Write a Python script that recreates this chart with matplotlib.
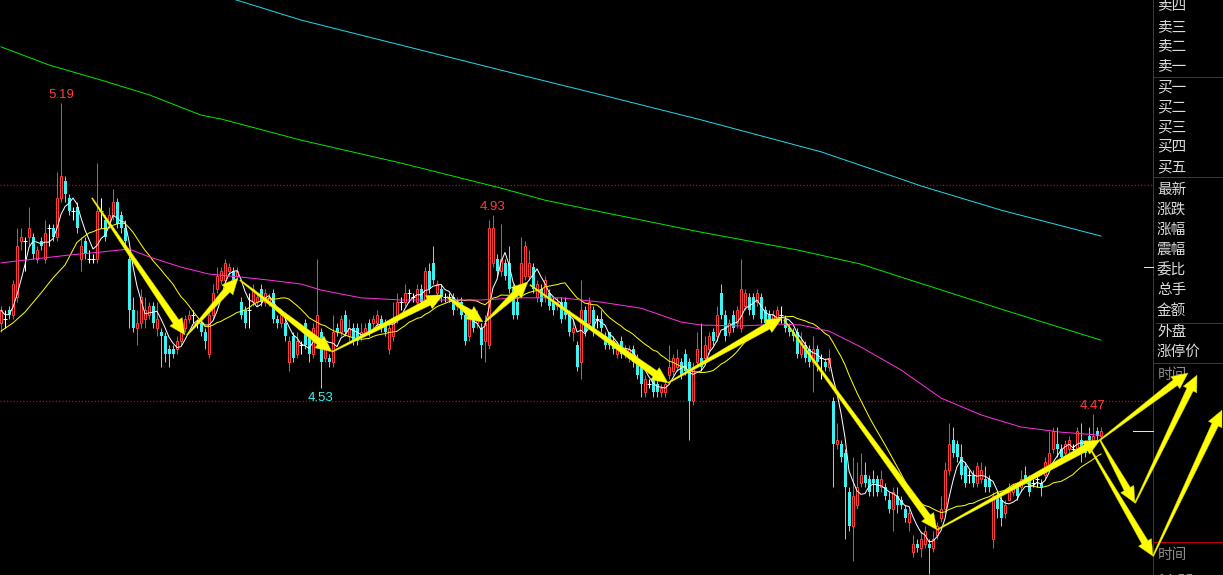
import numpy as np
import pandas as pd
import matplotlib
matplotlib.use('Agg')
import matplotlib.pyplot as plt
from matplotlib.patches import Polygon
from matplotlib.transforms import IdentityTransform

plt.rcParams['font.family'] = ['Noto Sans CJK SC', 'DejaVu Sans']

# 1. K线数据 (开 / 高 / 低 / 收)
opens = [4.68, 4.69, 4.71, 4.70, 4.74, 4.87, 4.87, 4.88, 4.88, 4.83,
         4.87, 4.83, 4.90, 4.90, 4.88, 4.97, 5.01, 4.97, 4.94, 4.95,
         4.83, 4.87, 4.83, 4.83, 4.83, 4.94, 4.92, 4.91, 4.93, 4.96,
         4.93, 4.90, 4.83, 4.71, 4.67, 4.68, 4.69, 4.70, 4.72, 4.67,
         4.66, 4.65, 4.62, 4.62, 4.62, 4.64, 4.67, 4.69, 4.70, 4.68,
         4.68, 4.66, 4.61, 4.70, 4.76, 4.78, 4.78, 4.80, 4.80, 4.79,
         4.73, 4.71, 4.71, 4.73, 4.73, 4.76, 4.73, 4.73, 4.75, 4.69,
         4.68, 4.68, 4.59, 4.65, 4.61, 4.63, 4.68, 4.65, 4.61, 4.65,
         4.66, 4.60, 4.60, 4.59, 4.67, 4.66, 4.70, 4.65, 4.67, 4.67,
         4.65, 4.66, 4.68, 4.68, 4.68, 4.69, 4.68, 4.62, 4.65, 4.69,
         4.73, 4.73, 4.75, 4.74, 4.73, 4.76, 4.73, 4.80, 4.82, 4.75,
         4.76, 4.74, 4.74, 4.74, 4.72, 4.73, 4.70, 4.65, 4.71, 4.68,
         4.67, 4.64, 4.63, 4.82, 4.83, 4.80, 4.82, 4.82, 4.76, 4.73,
         4.76, 4.79, 4.79, 4.81, 4.74, 4.76, 4.74, 4.75, 4.73, 4.72,
         4.73, 4.73, 4.70, 4.66, 4.63, 4.59, 4.71, 4.68, 4.71, 4.69,
         4.69, 4.65, 4.66, 4.64, 4.61, 4.64, 4.61, 4.60, 4.62, 4.60,
         4.58, 4.52, 4.54, 4.55, 4.54, 4.52, 4.52, 4.56, 4.57, 4.58,
         4.59, 4.61, 4.59, 4.50, 4.59, 4.60, 4.60, 4.62, 4.66, 4.65,
         4.75, 4.70, 4.66, 4.70, 4.68, 4.67, 4.72, 4.74, 4.74, 4.73,
         4.74, 4.71, 4.70, 4.69, 4.69, 4.70, 4.69, 4.67, 4.66, 4.66,
         4.61, 4.63, 4.62, 4.59, 4.62, 4.60, 4.59, 4.58, 4.50, 4.40,
         4.40, 4.38, 4.29, 4.21, 4.26, 4.31, 4.33, 4.32, 4.32, 4.32,
         4.30, 4.30, 4.27, 4.25, 4.28, 4.27, 4.25, 4.22, 4.15, 4.17,
         4.16, 4.17, 4.17, 4.16, 4.19, 4.23, 4.25, 4.34, 4.41, 4.40,
         4.37, 4.35, 4.33, 4.33, 4.31, 4.32, 4.32, 4.32, 4.18, 4.28,
         4.27, 4.24, 4.27, 4.29, 4.30, 4.30, 4.33, 4.32, 4.31, 4.32,
         4.31, 4.33, 4.35, 4.39, 4.40, 4.39, 4.38, 4.39, 4.39, 4.39,
         4.41, 4.40, 4.42, 4.41, 4.43, 4.42]

highs = [4.72, 4.71, 4.72, 4.78, 4.90, 4.90, 4.88, 4.95, 4.89, 4.86,
         4.88, 4.92, 4.91, 4.91, 5.03, 5.19, 5.02, 4.98, 4.95, 4.96,
         4.88, 4.88, 4.85, 4.84, 5.05, 4.97, 4.93, 4.95, 4.99, 4.97,
         4.94, 4.92, 4.84, 4.74, 4.71, 4.76, 4.74, 4.73, 4.73, 4.73,
         4.67, 4.66, 4.63, 4.63, 4.65, 4.68, 4.70, 4.71, 4.71, 4.69,
         4.69, 4.67, 4.71, 4.77, 4.81, 4.81, 4.83, 4.82, 4.81, 4.81,
         4.74, 4.72, 4.75, 4.77, 4.75, 4.77, 4.76, 4.75, 4.76, 4.70,
         4.71, 4.69, 4.65, 4.66, 4.66, 4.64, 4.69, 4.66, 4.68, 4.83,
         4.67, 4.64, 4.61, 4.70, 4.68, 4.70, 4.71, 4.69, 4.68, 4.68,
         4.68, 4.68, 4.69, 4.70, 4.71, 4.70, 4.69, 4.68, 4.73, 4.75,
         4.74, 4.77, 4.76, 4.75, 4.77, 4.77, 4.81, 4.82, 4.86, 4.78,
         4.77, 4.75, 4.75, 4.75, 4.74, 4.74, 4.71, 4.70, 4.72, 4.71,
         4.68, 4.70, 4.92, 4.93, 4.84, 4.91, 4.83, 4.86, 4.77, 4.75,
         4.88, 4.87, 4.85, 4.82, 4.78, 4.77, 4.79, 4.76, 4.74, 4.74,
         4.74, 4.74, 4.71, 4.69, 4.64, 4.78, 4.72, 4.74, 4.72, 4.70,
         4.71, 4.66, 4.66, 4.65, 4.64, 4.65, 4.63, 4.63, 4.63, 4.61,
         4.59, 4.56, 4.55, 4.56, 4.55, 4.54, 4.55, 4.63, 4.61, 4.62,
         4.60, 4.62, 4.60, 4.59, 4.66, 4.68, 4.65, 4.66, 4.67, 4.72,
         4.77, 4.71, 4.69, 4.71, 4.72, 4.83, 4.76, 4.75, 4.75, 4.76,
         4.75, 4.72, 4.71, 4.71, 4.72, 4.72, 4.70, 4.68, 4.67, 4.67,
         4.66, 4.64, 4.63, 4.65, 4.63, 4.61, 4.60, 4.62, 4.51, 4.45,
         4.41, 4.39, 4.30, 4.37, 4.36, 4.38, 4.36, 4.33, 4.34, 4.33,
         4.34, 4.31, 4.29, 4.30, 4.30, 4.28, 4.26, 4.25, 4.19, 4.18,
         4.20, 4.21, 4.18, 4.20, 4.22, 4.28, 4.36, 4.45, 4.44, 4.41,
         4.40, 4.36, 4.34, 4.34, 4.36, 4.36, 4.35, 4.33, 4.29, 4.29,
         4.28, 4.27, 4.31, 4.31, 4.31, 4.34, 4.35, 4.33, 4.32, 4.33,
         4.32, 4.37, 4.43, 4.44, 4.44, 4.40, 4.41, 4.42, 4.40, 4.44,
         4.45, 4.41, 4.44, 4.47, 4.44, 4.44]

lows = [4.66, 4.67, 4.69, 4.69, 4.73, 4.85, 4.80, 4.86, 4.83, 4.82,
        4.85, 4.82, 4.86, 4.87, 4.87, 4.96, 4.96, 4.93, 4.92, 4.89,
        4.80, 4.83, 4.82, 4.82, 4.82, 4.90, 4.87, 4.90, 4.92, 4.90,
        4.89, 4.85, 4.67, 4.66, 4.63, 4.67, 4.67, 4.69, 4.67, 4.65,
        4.58, 4.59, 4.58, 4.60, 4.61, 4.63, 4.66, 4.68, 4.68, 4.67,
        4.65, 4.62, 4.60, 4.69, 4.75, 4.77, 4.77, 4.79, 4.77, 4.78,
        4.69, 4.67, 4.67, 4.72, 4.72, 4.72, 4.72, 4.72, 4.68, 4.67,
        4.67, 4.64, 4.57, 4.59, 4.60, 4.61, 4.62, 4.59, 4.60, 4.64,
        4.53, 4.59, 4.58, 4.58, 4.65, 4.65, 4.65, 4.64, 4.63, 4.63,
        4.64, 4.65, 4.65, 4.67, 4.67, 4.66, 4.65, 4.61, 4.64, 4.68,
        4.71, 4.72, 4.73, 4.73, 4.72, 4.72, 4.72, 4.75, 4.77, 4.74,
        4.73, 4.73, 4.73, 4.70, 4.71, 4.69, 4.63, 4.64, 4.66, 4.67,
        4.60, 4.59, 4.62, 4.81, 4.79, 4.79, 4.78, 4.75, 4.69, 4.69,
        4.75, 4.78, 4.78, 4.75, 4.73, 4.72, 4.73, 4.71, 4.70, 4.71,
        4.68, 4.69, 4.65, 4.64, 4.57, 4.55, 4.65, 4.67, 4.65, 4.67,
        4.66, 4.62, 4.62, 4.61, 4.60, 4.60, 4.60, 4.59, 4.58, 4.55,
        4.51, 4.51, 4.53, 4.51, 4.51, 4.51, 4.51, 4.55, 4.56, 4.57,
        4.55, 4.56, 4.41, 4.49, 4.58, 4.57, 4.59, 4.61, 4.63, 4.64,
        4.69, 4.64, 4.65, 4.66, 4.67, 4.66, 4.71, 4.70, 4.69, 4.72,
        4.68, 4.67, 4.67, 4.68, 4.68, 4.68, 4.66, 4.65, 4.64, 4.60,
        4.60, 4.59, 4.58, 4.52, 4.57, 4.55, 4.57, 4.57, 4.30, 4.39,
        4.36, 4.18, 4.20, 4.13, 4.25, 4.30, 4.30, 4.28, 4.28, 4.28,
        4.29, 4.27, 4.24, 4.20, 4.24, 4.25, 4.22, 4.20, 4.14, 4.15,
        4.14, 4.16, 4.10, 4.15, 4.18, 4.22, 4.24, 4.33, 4.37, 4.36,
        4.32, 4.30, 4.31, 4.30, 4.30, 4.31, 4.29, 4.29, 4.16, 4.23,
        4.21, 4.23, 4.27, 4.28, 4.27, 4.29, 4.31, 4.28, 4.30, 4.30,
        4.28, 4.32, 4.34, 4.38, 4.37, 4.36, 4.37, 4.38, 4.38, 4.38,
        4.36, 4.37, 4.40, 4.40, 4.41, 4.41]

closes = [4.71, 4.69, 4.70, 4.77, 4.86, 4.88, 4.87, 4.90, 4.84, 4.85,
          4.86, 4.89, 4.90, 4.88, 4.97, 5.02, 4.98, 4.94, 4.94, 4.90,
          4.86, 4.84, 4.83, 4.83, 4.94, 4.94, 4.88, 4.93, 4.96, 4.91,
          4.90, 4.87, 4.71, 4.67, 4.68, 4.74, 4.71, 4.72, 4.68, 4.69,
          4.65, 4.61, 4.61, 4.61, 4.64, 4.66, 4.69, 4.70, 4.70, 4.68,
          4.66, 4.64, 4.70, 4.75, 4.79, 4.80, 4.82, 4.81, 4.78, 4.80,
          4.70, 4.68, 4.71, 4.76, 4.74, 4.73, 4.75, 4.74, 4.69, 4.68,
          4.70, 4.65, 4.64, 4.60, 4.64, 4.63, 4.63, 4.61, 4.67, 4.70,
          4.59, 4.63, 4.59, 4.66, 4.66, 4.69, 4.66, 4.67, 4.64, 4.64,
          4.66, 4.67, 4.66, 4.69, 4.70, 4.67, 4.66, 4.67, 4.69, 4.73,
          4.73, 4.75, 4.75, 4.74, 4.76, 4.73, 4.80, 4.76, 4.78, 4.77,
          4.74, 4.74, 4.74, 4.71, 4.73, 4.70, 4.64, 4.69, 4.67, 4.70,
          4.63, 4.68, 4.90, 4.90, 4.80, 4.83, 4.79, 4.76, 4.70, 4.70,
          4.82, 4.86, 4.82, 4.76, 4.77, 4.73, 4.78, 4.72, 4.71, 4.73,
          4.69, 4.70, 4.66, 4.67, 4.58, 4.71, 4.66, 4.73, 4.66, 4.69,
          4.67, 4.63, 4.63, 4.62, 4.63, 4.61, 4.62, 4.62, 4.59, 4.56,
          4.54, 4.55, 4.54, 4.52, 4.52, 4.53, 4.54, 4.58, 4.60, 4.60,
          4.56, 4.57, 4.50, 4.58, 4.62, 4.58, 4.63, 4.65, 4.64, 4.70,
          4.70, 4.65, 4.68, 4.67, 4.71, 4.76, 4.75, 4.71, 4.70, 4.75,
          4.69, 4.68, 4.68, 4.70, 4.71, 4.70, 4.67, 4.66, 4.65, 4.61,
          4.64, 4.60, 4.59, 4.62, 4.59, 4.60, 4.58, 4.60, 4.40, 4.41,
          4.37, 4.30, 4.21, 4.28, 4.30, 4.33, 4.31, 4.29, 4.31, 4.29,
          4.32, 4.28, 4.25, 4.29, 4.26, 4.26, 4.23, 4.24, 4.17, 4.16,
          4.18, 4.20, 4.16, 4.18, 4.21, 4.25, 4.34, 4.40, 4.38, 4.37,
          4.33, 4.31, 4.33, 4.31, 4.35, 4.34, 4.30, 4.30, 4.28, 4.25,
          4.23, 4.26, 4.29, 4.30, 4.28, 4.32, 4.32, 4.29, 4.31, 4.32,
          4.30, 4.36, 4.38, 4.43, 4.39, 4.37, 4.40, 4.41, 4.39, 4.43,
          4.39, 4.38, 4.41, 4.42, 4.42, 4.43]

# 2. 均线 (黄线开头部分 + 长周期均线取样点: 下标, 价格)
ma20_head_idx = [0, 3, 6, 10, 13, 16]
ma20_head_val = [4.662, 4.681, 4.706, 4.750, 4.785, 4.815]

ma60_idx = [0, 17, 25, 32, 37, 45, 52, 60, 67, 75, 80, 90, 100, 120, 130, 140,
            150, 160, 170, 175, 185, 195, 200, 207, 215, 225, 235, 245, 255, 265, 275]
ma60_val = [4.820, 4.838, 4.845, 4.852, 4.834, 4.810, 4.794, 4.787, 4.780, 4.771,
            4.757, 4.739, 4.734, 4.734, 4.739, 4.739, 4.729, 4.715, 4.683, 4.676,
            4.674, 4.678, 4.676, 4.662, 4.625, 4.572, 4.507, 4.468, 4.440, 4.428, 4.421]

ma120_idx = [0, 12, 25, 37, 50, 55, 75, 100, 125, 136, 150, 175, 199, 215, 225, 250, 275]
ma120_val = [5.320, 5.278, 5.243, 5.209, 5.162, 5.153, 5.104, 5.051, 4.993, 4.965,
             4.938, 4.891, 4.850, 4.817, 4.787, 4.713, 4.641]

ma250_idx = [50, 59, 75, 100, 125, 150, 175, 205, 225, 230, 250, 275]
ma250_val = [5.451, 5.428, 5.382, 5.324, 5.266, 5.209, 5.151, 5.077, 5.014, 4.998, 4.942, 4.882]

# 3. 标注: 高低点, 参考线, 手绘箭头 (下标, 价格)
marked_high = [15, 123, 273]
marked_low = [80]
ref_levels = [5.00, 4.50]
tick_levels = [4.81, 4.43]

arrow_start_idx = [22.75, 46.5, 59.75, 82.75, 111.5, 121, 132.25, 166.75, 195.75, 234,
                   274.75, 274.75, 283.5, 272.25, 288]
arrow_start_val = [4.970, 4.653, 4.780, 4.614, 4.741, 4.683, 4.769, 4.542, 4.688, 4.202,
                   4.410, 4.410, 4.264, 4.391, 4.141]
arrow_end_idx = [46, 59.25, 82.75, 110.5, 120.5, 131.75, 166.75, 195.25, 234, 274.75,
                 296.75, 283.5, 299, 288, 305.25]
arrow_end_val = [4.653, 4.785, 4.614, 4.746, 4.683, 4.776, 4.542, 4.692, 4.202, 4.410,
                 4.565, 4.264, 4.560, 4.141, 4.479]

panel_labels = ['卖四', '卖三', '卖二', '卖一', '买一', '买二', '买三', '买四', '买五',
                '最新', '涨跌', '涨幅', '震幅', '委比', '总手', '金额', '外盘', '涨停价']
panel_rows_px = [5, 27, 46, 66, 87, 107, 127, 146, 167,
                 190, 210, 230, 250, 270, 290, 311, 332, 352]

RED = '#ff3c3c'
CYAN = '#3cf2f2'
W, H = 1223, 575

# 4. 画布
fig = plt.figure(figsize=(W / 100, H / 100), dpi=100, facecolor='black')
ax = fig.add_axes([0, 0, 1, 1])
ax.set_facecolor('black')
ax.set_xlim(-0.25, -0.25 + W / 4)
ax.set_ylim(4.0974, 5.4284)
ax.set_axis_off()

o, hi, lo, c = (np.array(v) for v in (opens, highs, lows, closes))
x = np.arange(len(c))
up = c > o + 1e-9
dn = c < o - 1e-9
fl = ~(up | dn)
px = 0.72  # 1 像素线宽

# 阴线 (实心青色)
ax.vlines(x[dn], lo[dn], hi[dn], color=CYAN, lw=px, zorder=2)
ax.bar(x[dn], (o - c)[dn], bottom=c[dn], width=0.75, color=CYAN, lw=0, zorder=2)
# 阳线 (空心红色)
ax.vlines(x[up], c[up], hi[up], color=RED, lw=px, zorder=2)
ax.vlines(x[up], lo[up], o[up], color=RED, lw=px, zorder=2)
ax.bar(x[up], (c - o)[up], bottom=o[up], width=0.55, facecolor='black',
       edgecolor=RED, lw=px, zorder=2)
# 十字星 (白色)
ax.vlines(x[fl], lo[fl], hi[fl], color='white', lw=px, zorder=2)
ax.hlines(c[fl], x[fl] - 0.38, x[fl] + 0.38, color='white', lw=px, zorder=2)

# 均线
s = pd.Series(c)
ma5 = s.rolling(5, min_periods=1).mean()
ma20 = s.rolling(20).mean()
ax.plot(x, ma5, color='white', lw=px, zorder=3)
ax.plot(ma20_head_idx + list(x[19:]), ma20_head_val + list(ma20[19:]),
        color='#ffff00', lw=px, zorder=3)
ax.plot(ma60_idx, ma60_val, color='#ff2fe0', lw=px, zorder=3)
ax.plot(ma120_idx, ma120_val, color='#00e600', lw=px, zorder=3)
ax.plot(ma250_idx, ma250_val, color='#1ed8ec', lw=px, zorder=3)

# 参考虚线
for lv in ref_levels:
    ax.axhline(lv, xmin=0, xmax=1153 / W, color='#d40000', lw=0.9,
               ls=(0, (1, 1.6)), zorder=1)

# 高低点标注
for i in marked_high:
    ax.annotate(f'{hi[i]:.2f}', (x[i], hi[i]), xytext=(0, 1.5), textcoords='offset points',
                ha='center', va='bottom', color=RED, fontsize=9.5, family='Liberation Sans')
for i in marked_low:
    ax.annotate(f'{lo[i]:.2f}', (x[i], lo[i]), xytext=(0, -2.5), textcoords='offset points',
                ha='center', va='top', color=CYAN, fontsize=9.5, family='Liberation Sans')

# 右侧面板
panel_x = 1153 / W
ax.plot([panel_x, panel_x], [0, 1], transform=ax.transAxes, color='#c00000', lw=px, zorder=4)
for ypx, x0 in [(77, 1153), (177, 1153), (323, 1156), (363, 1153), (542, 1153)]:
    ax.plot([x0 / W, 1], [1 - ypx / H] * 2, transform=ax.transAxes,
            color='#c00000', lw=px, zorder=4)
for lab, ypx in zip(panel_labels, panel_rows_px):
    ax.text(1157 / W, 1 - ypx / H, lab, transform=ax.transAxes, ha='left', va='center',
            color='#dcdcdc', fontsize=10.5)
for ypx, lab in [(375, '时间'), (555, '时间'), (581, '14:55')]:
    ax.text(1158 / W, 1 - ypx / H, lab, transform=ax.transAxes, ha='left', va='center',
            color='#8c8c8c', fontsize=10.5)
for lv, x0 in zip(tick_levels, [1144, 1133]):
    ax.plot([x0 / W, panel_x], [lv, lv], transform=ax.get_yaxis_transform(),
            color='#ffff00', lw=px, zorder=4)


# 手绘粗箭头
def fat_arrow(start, end):
    p0 = ax.transData.transform(start)
    p1 = ax.transData.transform(end)
    d = p1 - p0
    u = d / np.hypot(*d)
    nv = np.array([-u[1], u[0]])
    base = p1 - u * 16
    pts = [p0 + nv * 0.6, base + nv * 3.5, base + nv * 7.5, p1,
           base - nv * 7.5, base - nv * 3.5, p0 - nv * 0.6]
    fig.add_artist(Polygon(pts, closed=True, transform=IdentityTransform(),
                           facecolor='#ffff00', edgecolor='#c8c800', lw=0.3, zorder=6))


for a, b, cc, d in zip(arrow_start_idx, arrow_start_val, arrow_end_idx, arrow_end_val):
    fat_arrow((a, b), (cc, d))

fig.savefig('out.png', dpi=100, facecolor='black')
